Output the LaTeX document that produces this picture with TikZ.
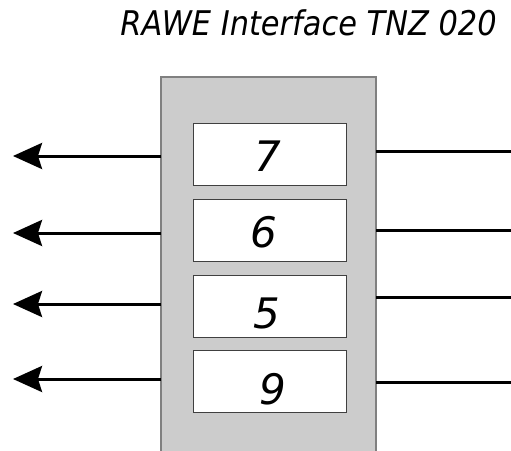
\documentclass[tikz,border=0pt]{standalone}
\usepackage{fontspec}
\setmainfont{DejaVu Sans}
\usetikzlibrary{arrows.meta}
\begin{document}
\begin{tikzpicture}[x=1pt,y=-1pt,
  panel/.style={draw=black!50, line width=1.2pt, fill=black!20, anchor=north west,
    minimum width=215pt, minimum height=385pt, inner sep=0pt, outer sep=0pt},
  slot/.style={draw=black!75, line width=1pt, fill=white, anchor=north west,
    minimum width=153pt, minimum height=62pt, inner sep=0pt, outer sep=0pt},
  digit/.style={font=\fontsize{42}{42}\selectfont\itshape, inner sep=0pt},
  wire/.style={line width=3pt},
  outarrow/.style={line width=3pt, -{Stealth[length=29pt, width=26pt, inset=4pt]}},
  title/.style={font=\fontsize{34}{34}\selectfont\itshape, anchor=base, inner sep=0pt}
]
\useasboundingbox (0,0) rectangle (511,450);
\node[title] (ttl) at (308.5,35) {\scalebox{0.895}[1]{RAWE Interface TNZ 020}};
\node[panel] (panel) at (161,77) {};
\node[slot] (s7) at (193,123.5) {};
\node[slot] (s6) at (193,199) {};
\node[slot] (s5) at (193,275) {};
\node[slot] (s9) at (193,350.5) {};
\node[digit] (d7) at (268,156.5) {7};
\node[digit] (d6) at (263.5,232.5) {6};
\node[digit] (d5) at (267,313) {5};
\node[digit] (d9) at (273,389) {9};
\coordinate (l1) at (13,156);
\coordinate (l2) at (13,233);
\coordinate (l3) at (13,304);
\coordinate (l4) at (13,379);
\coordinate (r1) at (511,151);
\coordinate (r2) at (511,230);
\coordinate (r3) at (511,297);
\coordinate (r4) at (511,382);
\foreach \i in {1,2,3,4} {
  \draw[outarrow] (panel.west |- l\i) -- (l\i);
  \draw[wire] (panel.east |- r\i) -- (r\i);
}
\end{tikzpicture}
\end{document}
